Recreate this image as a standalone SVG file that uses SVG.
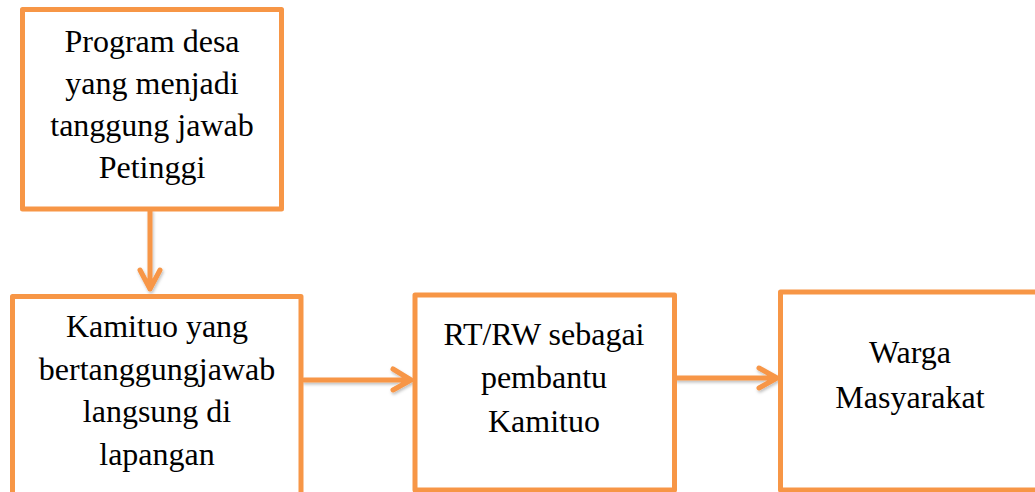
<svg xmlns="http://www.w3.org/2000/svg" width="1035" height="492" viewBox="0 0 1035 492">
<defs>
<style>
.box{fill:#fff;stroke:#F79646;stroke-width:5;stroke-linejoin:round}
.t{font-family:"Liberation Serif","Times New Roman",serif;font-size:32px;fill:#000;text-anchor:middle}
.c{fill:none;stroke:#F79646;stroke-width:5;stroke-linecap:round;stroke-linejoin:round}
</style>
<filter id="sh" x="-10%" y="-10%" width="130%" height="140%">
<feDropShadow dx="1" dy="2" stdDeviation="1.5" flood-color="#000" flood-opacity="0.25"/>
</filter>
</defs>
<rect width="1035" height="492" fill="#fff"/>
<g id="connectors" filter="url(#sh)">
<path class="c" d="M150 211 V289 M140 270 L150 289 L160 270"/>
<path class="c" d="M304 380 H411 M393 369 L411 380 L393 390"/>
<path class="c" d="M677 378 H777 M759 368 L777 378 L759 388"/>
</g>
<g id="node1">
<rect class="box" x="22.5" y="9.5" width="259" height="199.5"/>
<text class="t" x="152" y="52">Program desa</text>
<text class="t" x="152" y="94">yang menjadi</text>
<text class="t" x="152" y="136">tanggung jawab</text>
<text class="t" x="152" y="178">Petinggi</text>
</g>
<g id="node2">
<rect class="box" x="12.5" y="296.5" width="288.5" height="220"/>
<text class="t" x="157" y="337">Kamituo yang</text>
<text class="t" x="157" y="380">bertanggungjawab</text>
<text class="t" x="157" y="422">langsung di</text>
<text class="t" x="157" y="465">lapangan</text>
</g>
<g id="node3">
<rect class="box" x="415" y="295" width="259.5" height="195"/>
<text class="t" x="544" y="345">RT/RW sebagai</text>
<text class="t" x="544" y="388">pembantu</text>
<text class="t" x="544" y="432">Kamituo</text>
</g>
<g id="node4">
<rect class="box" x="780.5" y="292" width="265" height="198"/>
<text class="t" x="910" y="363">Warga</text>
<text class="t" x="910" y="408">Masyarakat</text>
</g>
</svg>
